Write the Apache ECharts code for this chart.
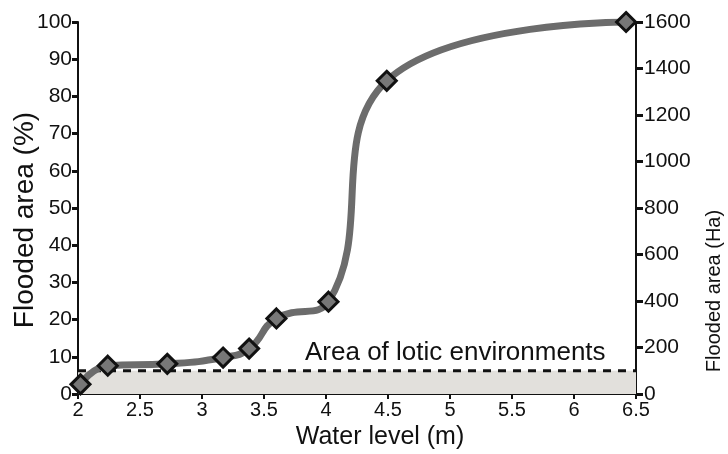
<!DOCTYPE html>
<html>
<head>
<meta charset="utf-8">
<style>
  html, body { margin: 0; padding: 0; background: #fff; }
  #chart { width: 728px; height: 454px; }
</style>
<script src="https://cdn.jsdelivr.net/npm/echarts@6/dist/echarts.min.js"></script>
</head>
<body>
<div id="chart"></div>
<script>
// water level (m) and flooded area (%)
const waterLevel = [2.02, 2.24, 2.72, 3.17, 3.38, 3.60, 4.02, 4.49, 6.42]
const floodedPct = [2.6, 7.6, 8.1, 9.8, 12.2, 20.3, 24.8, 84.2, 100]
// lotic environments band (Ha, right axis)
const loticX = [2, 6.5]
const loticHa = [100, 100]
const loticLabel = 'Area of lotic environments'

const font = 'Liberation Sans, Arial, sans-serif'

const chart = echarts.init(document.getElementById('chart'))

chart.setOption({
  animation: false,
  grid: { left: 78, right: 92, top: 22, bottom: 60, outerBoundsMode: 'none', containLabel: false },
  xAxis: {
    type: 'value',
    min: 2,
    max: 6.5,
    interval: 0.5,
    name: 'Water level (m)',
    nameLocation: 'middle',
    nameGap: 31,
    nameTextStyle: { fontFamily: font, fontSize: 25, color: '#111', padding: [0, 0, 0, 46] },
    splitLine: { show: false },
    axisLine: { lineStyle: { color: '#111', width: 2 } },
    axisTick: { inside: false, length: 5, lineStyle: { color: '#111', width: 2 } },
    axisLabel: { fontFamily: font, fontSize: 20, color: '#111', margin: 6 }
  },
  yAxis: [
    {
      type: 'value',
      min: 0,
      max: 100,
      interval: 10,
      name: 'Flooded area (%)',
      nameLocation: 'middle',
      nameGap: 39,
      nameMoveOverlap: false,
      nameTextStyle: { fontFamily: font, fontSize: 28, color: '#111', padding: [0, 24, 0, 0] },
      splitLine: { show: false },
      axisLine: { show: true, lineStyle: { color: '#111', width: 2 } },
      axisTick: { show: true, inside: false, length: 6, lineStyle: { color: '#111', width: 3 } },
      axisLabel: { fontFamily: font, fontSize: 21, color: '#111', margin: 6 }
    },
    {
      type: 'value',
      min: 0,
      max: 1600,
      interval: 200,
      position: 'right',
      name: 'Flooded area (Ha)',
      nameLocation: 'middle',
      nameGap: 68,
      nameTextStyle: { fontFamily: font, fontSize: 20, color: '#111', padding: [0, 166, 0, 0] },
      splitLine: { show: false },
      axisLine: { show: true, lineStyle: { color: '#111', width: 2 } },
      axisTick: { show: true, inside: false, length: 7, lineStyle: { color: '#111', width: 3 } },
      axisLabel: { fontFamily: font, fontSize: 21, color: '#111', margin: 8, formatter: v => String(v) }
    }
  ],
  graphic: [
    {
      type: 'text',
      left: 305,
      top: 340,
      z: 10,
      style: { text: loticLabel, font: '26px ' + font, fill: '#111' }
    }
  ],
  series: [
    {
      name: 'Lotic',
      type: 'line',
      yAxisIndex: 1,
      data: loticX.map((x, i) => [x, loticHa[i]]),
      symbol: 'none',
      z: 1,
      lineStyle: { color: '#111', width: 3, type: [8, 7] },
      areaStyle: { color: '#e2e0dc', opacity: 1 }
    },
    {
      name: 'Flooded area',
      type: 'line',
      data: waterLevel.map((x, i) => [x, floodedPct[i]]),
      smooth: 0.5,
      z: 5,
      symbol: 'diamond',
      symbolSize: 19,
      lineStyle: { color: '#6c6c6c', width: 7 },
      itemStyle: { color: '#777', borderColor: '#111', borderWidth: 3 }
    }
  ]
})
</script>
</body>
</html>
